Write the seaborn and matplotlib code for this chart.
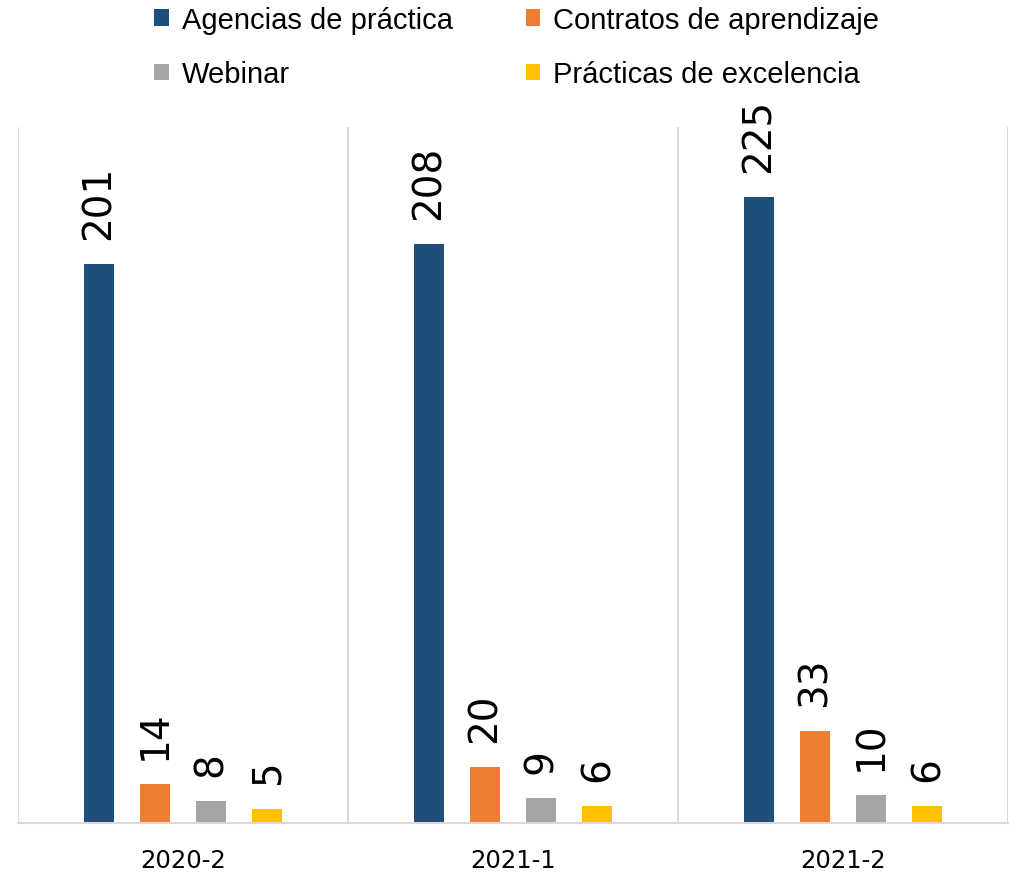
import matplotlib
matplotlib.use('Agg')
import matplotlib.pyplot as plt
from matplotlib.patches import Patch
import pandas as pd
import seaborn as sns

# Datos
periodos = ['2020-2', '2021-1', '2021-2']
series = ['Agencias de práctica', 'Contratos de aprendizaje', 'Webinar', 'Prácticas de excelencia']
agencias = [201, 208, 225]
contratos = [14, 20, 33]
webinar = [8, 9, 10]
excelencia = [5, 6, 6]
colores = ['#1F4E79', '#ED7D31', '#A5A5A5', '#FFC000']

df = pd.DataFrame({
    'periodo': periodos * 4,
    'serie': [s for s in series for _ in periodos],
    'valor': agencias + contratos + webinar + excelencia,
})

sns.set_style('white')
plt.rcParams['font.family'] = ['Liberation Sans Narrow', 'Liberation Sans', 'DejaVu Sans']
plt.rcParams['text.color'] = 'black'
plt.rcParams['xtick.color'] = 'black'

fig = plt.figure(figsize=(10.17, 8.78), dpi=100)
ax = fig.add_axes([0.0177, 0.0615, 0.9735, 0.7925])

sns.barplot(data=df, x='periodo', y='valor', hue='serie', hue_order=series,
            palette=colores, saturation=1, width=0.682, gap=0.467, legend=False,
            ax=ax, edgecolor='none', linewidth=0)

ax.set_ylim(0, 250)
ax.set_xlim(-0.5, 2.5)
ax.set_yticks([])
ax.set_xlabel('')
ax.set_ylabel('')

# separadores verticales entre categorías
for x in [-0.5, 0.5, 1.5, 2.5]:
    ax.axvline(x, color='#D9D9D9', lw=1.5, zorder=0)
for s in ['top', 'right', 'left']:
    ax.spines[s].set_visible(False)
ax.spines['bottom'].set_color('#D9D9D9')
ax.spines['bottom'].set_linewidth(1.5)

ax.tick_params(axis='x', length=0, pad=18)
for lbl in ax.get_xticklabels():
    lbl.set_fontfamily('DejaVu Sans')
    lbl.set_fontsize(17.5)
    lbl.set_color('black')

# etiquetas de valores
for cont in ax.containers:
    ax.bar_label(cont, labels=[f'{int(v)}' for v in cont.datavalues],
                 rotation=90, padding=18, fontsize=28, fontfamily='DejaVu Sans',
                 color='black')

# orden por filas: matplotlib llena la leyenda por columnas
orden = [0, 2, 1, 3]
handles = [Patch(facecolor=colores[i], edgecolor='none') for i in orden]
fig.legend(handles, [series[i] for i in orden], loc='upper center',
           bbox_to_anchor=(0.508, 1.022), ncol=2, frameon=False, fontsize=21,
           handlelength=0.5, handleheight=0.5, handletextpad=0.45,
           columnspacing=2.5, labelspacing=0.9)

fig.savefig('out.png', dpi=100)
